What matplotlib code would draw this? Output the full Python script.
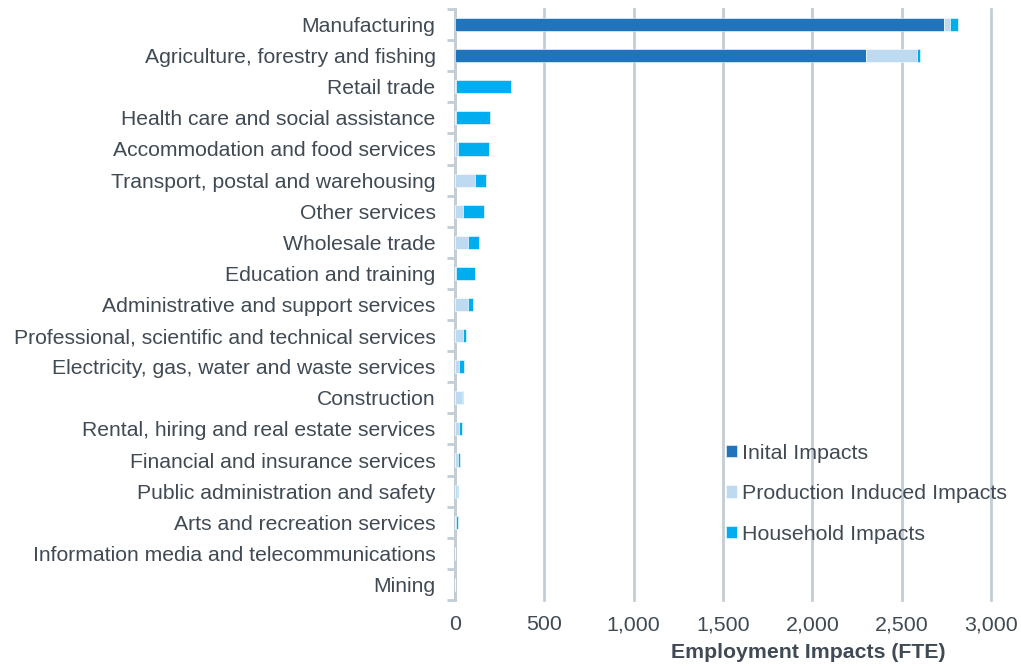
import numpy as np
import matplotlib.pyplot as plt

plt.rcParams['font.family'] = ['Liberation Sans', 'DejaVu Sans']

categories = ['Manufacturing', 'Agriculture, forestry and fishing', 'Retail trade',
              'Health care and social assistance', 'Accommodation and food services',
              'Transport, postal and warehousing', 'Other services', 'Wholesale trade',
              'Education and training', 'Administrative and support services',
              'Professional, scientific and technical services',
              'Electricity, gas, water and waste services', 'Construction',
              'Rental, hiring and real estate services', 'Financial and insurance services',
              'Public administration and safety', 'Arts and recreation services',
              'Information media and telecommunications', 'Mining']

initial = [2736, 2301, 0, 0, 0, 0, 0, 0, 0, 0, 0, 0, 0, 0, 0, 0, 0, 0, 0]
production = [33, 286, 8, 6, 16, 113, 42, 74, 4, 72, 44, 25, 39, 25, 17, 12, 8, 1, 0]
household = [46, 14, 308, 191, 173, 59, 118, 60, 108, 29, 19, 26, 5, 12, 12, 7, 9, 1, 0]

series_names = ['Inital Impacts', 'Production Induced Impacts', 'Household Impacts']
colors = ['#1F74BC', '#BDDAF1', '#00AEEF']
text_col = '#404A54'
grid_col = '#C3CDD5'

fig = plt.figure(figsize=(10.21, 6.66), dpi=100)
ax = fig.add_axes([455 / 1021, 1 - 600 / 666, (991 - 455) / 1021, (600 - 9) / 666])

y = np.arange(len(categories))
left = np.zeros(len(categories))
for vals, name, c in zip([initial, production, household], series_names, colors):
    vals = np.array(vals, dtype=float)
    ax.barh(y, vals, left=left, height=0.42, color=c, label=name,
            edgecolor='white', linewidth=0.4, zorder=3)
    left += vals

ax.set_ylim(len(categories) - 0.5, -0.5)
ax.set_xlim(0, 3000)
ax.set_xticks(np.arange(0, 3001, 500))
ax.set_xticklabels([f'{v:,}' for v in range(0, 3001, 500)])

ax.set_yticks(y)
ax.set_yticklabels(categories)
ax.set_yticks(np.arange(-0.5, len(categories)), minor=True)
ax.tick_params(axis='y', which='major', length=0, pad=14, labelsize=15.2, labelcolor=text_col)
ax.tick_params(axis='y', which='minor', length=6, width=2, color=grid_col, direction='out')
ax.tick_params(axis='x', length=0, pad=11, labelsize=15.4, labelcolor=text_col)

ax.grid(axis='x', color=grid_col, linewidth=2, zorder=0)
for gl in ax.get_xgridlines():
    gl.set_clip_on(False)
for s in ['top', 'right', 'bottom']:
    ax.spines[s].set_visible(False)
ax.spines['left'].set_color(grid_col)
ax.spines['left'].set_linewidth(2)

fig.text(808 / 1021, 1 - 652 / 666, 'Employment Impacts (FTE)', ha='center', va='center',
         fontsize=15.3, fontweight='bold', color=text_col)

leg = ax.legend(loc='lower left', bbox_to_anchor=(0.49, 0.081), frameon=False,
                fontsize=15.4, handlelength=0.5, handleheight=0.5, handletextpad=0.25,
                labelspacing=1.0, borderaxespad=0)
for t in leg.get_texts():
    t.set_color(text_col)

fig.savefig('out.png', dpi=100)
